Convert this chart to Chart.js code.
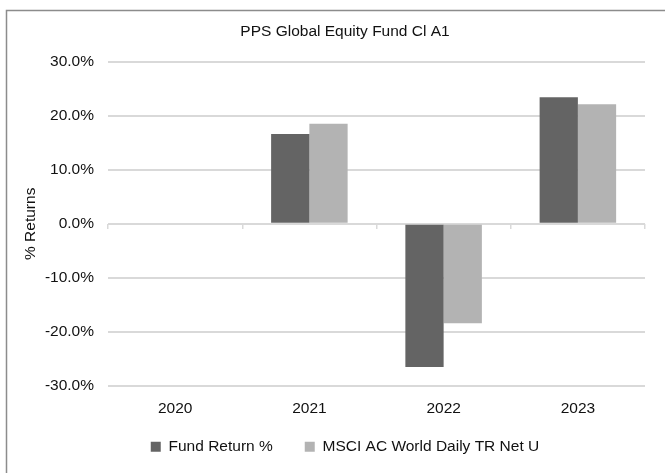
<!DOCTYPE html>
<html>
<head>
<meta charset="utf-8">
<title>PPS Global Equity Fund Cl A1</title>
<script src="https://cdn.jsdelivr.net/npm/chart.js@4/dist/chart.umd.min.js"></script>
<style>
  html, body { margin: 0; padding: 0; background: #fff; }
  #wrap { width: 665px; height: 473px; position: relative; }
</style>
</head>
<body>
<div id="wrap"><canvas id="returnsChart"></canvas></div>
<script>
// categories + series (values in %)
const years = ["2020", "2021", "2022", "2023"];
const fundReturns = [null, 16.6, -26.5, 23.4];
const msciReturns = [null, 18.5, -18.4, 22.1];

const seriesNames = ["Fund Return %", "MSCI AC World Daily TR Net U"];
const seriesColors = ["#646464", "#b3b3b3"];

// value axis range
const yMin = -30;
const yMax = 30;
const yStep = 10;

const FONT = "'Liberation Sans', Arial, sans-serif";
const FS = 15.5;
const TEXT = "#111";
const GRID = "#d9d9d9";

// left + top edge of the excel chart frame (rest is cropped off)
const framePlugin = {
  id: "frame",
  beforeDraw(chart) {
    const ctx = chart.ctx;
    ctx.save();
    ctx.strokeStyle = "#8c8c8c";
    ctx.lineWidth = 1.5;
    ctx.beginPath();
    ctx.moveTo(6.5, chart.height);
    ctx.lineTo(6.5, 10.5);
    ctx.lineTo(chart.width, 10.5);
    ctx.stroke();
    ctx.restore();
  }
};

// x axis box is kept short so the legend sits close; widen its label clip area afterwards
const xLabelRoom = {
  id: "xLabelRoom",
  afterLayout(chart) {
    const x = chart.scales.x;
    if (x) x.bottom += 25;
  }
};

function buildChart() {
  new Chart(document.getElementById("returnsChart"), {
    type: "bar",
    data: {
      labels: years,
      datasets: [
        { label: seriesNames[0], data: fundReturns, backgroundColor: seriesColors[0], borderWidth: 0 },
        { label: seriesNames[1], data: msciReturns, backgroundColor: seriesColors[1], borderWidth: 0 }
      ]
    },
    options: {
      responsive: true,
      maintainAspectRatio: false,
      animation: false,
      datasets: { bar: { categoryPercentage: 0.57, barPercentage: 1.0 } },
      layout: { padding: { top: 12, left: 45, right: 20, bottom: 16 } },
      plugins: {
        title: {
          display: true,
          text: "PPS Global Equity Fund Cl A1",
          color: TEXT,
          font: { family: FONT, size: FS, weight: "normal" },
          padding: { top: 10, bottom: 21 }
        },
        legend: {
          position: "bottom",
          maxHeight: 50,
          labels: {
            boxWidth: 10,
            boxHeight: 10,
            padding: 32,
            color: TEXT,
            font: { family: FONT, size: FS }
          }
        },
        tooltip: { enabled: false }
      },
      scales: {
        x: {
          type: "category",
          offset: true,
          grid: { display: false },
          border: { display: false },
          ticks: { color: TEXT, font: { family: FONT, size: FS }, padding: 5 },
          afterFit: (s) => { s.height = 21; }
        },
        // little tick marks hanging off the zero line
        x2: {
          type: "category",
          position: { y: 0 },
          offset: true,
          grid: { offset: true, drawOnChartArea: false, drawTicks: true, tickLength: 5, color: GRID, lineWidth: 1.5 },
          border: { display: false },
          ticks: { display: false }
        },
        y: {
          min: yMin,
          max: yMax,
          grid: { color: GRID, lineWidth: 2, drawTicks: false },
          border: { display: false },
          ticks: {
            stepSize: yStep,
            padding: 14,
            color: TEXT,
            font: { family: FONT, size: FS },
            callback: (v) => v.toFixed(1) + "%"
          },
          title: {
            display: true,
            text: "% Returns",
            color: TEXT,
            font: { family: FONT, size: FS },
            padding: { top: -24, bottom: 0 }
          },
          afterFit: (s) => { s.width = 63; }
        }
      }
    },
    plugins: [framePlugin, xLabelRoom]
  });
}

document.addEventListener("DOMContentLoaded", buildChart);
</script>
</body>
</html>
